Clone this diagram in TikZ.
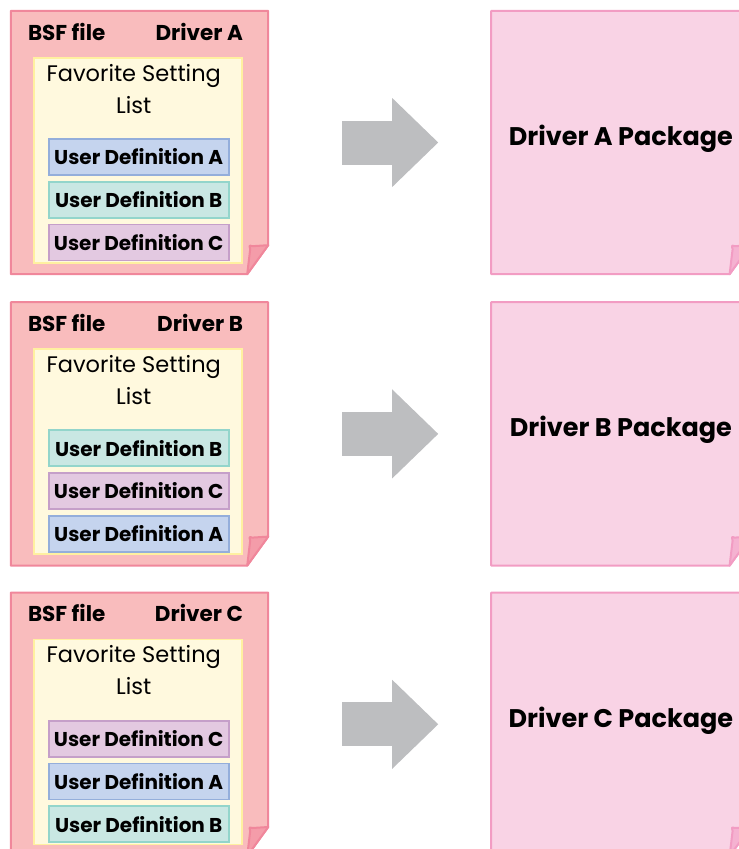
\documentclass[tikz,border=0pt]{standalone}
\usepackage{fontspec}
\setmainfont{Poppins}
\usepackage{tikz}
\usetikzlibrary{positioning, calc, arrows.meta}
\definecolor{bsffill}{HTML}{F9BCBD}
\definecolor{bsfline}{HTML}{F0879B}
\definecolor{pkgfill}{HTML}{F9D3E5}
\definecolor{pkgline}{HTML}{F29CC3}
\definecolor{listfill}{HTML}{FFF9DE}
\definecolor{listline}{HTML}{FFF0A0}
\definecolor{udAfill}{HTML}{C5D4EE}
\definecolor{udAline}{HTML}{94AEDB}
\definecolor{udBfill}{HTML}{C9E7E3}
\definecolor{udBline}{HTML}{93D5CB}
\definecolor{udCfill}{HTML}{E3C9E1}
\definecolor{udCline}{HTML}{C59FC9}
\definecolor{arrowgray}{HTML}{BDBEC0}
\tikzset{
  bsfpage/.style={minimum width=257pt, minimum height=263pt, inner sep=0pt},
  pkgpage/.style={minimum width=259pt, minimum height=263pt, inner sep=0pt},
  favlist/.style={draw=listline, fill=listfill, line width=1.8pt, minimum width=208pt, minimum height=205pt, inner sep=0pt},
  userdef/.style={line width=1.8pt, minimum width=180pt, minimum height=36pt, inner sep=0pt, font=\fontsize{20}{22}\selectfont\bfseries},
  udA/.style={userdef, draw=udAline, fill=udAfill},
  udB/.style={userdef, draw=udBline, fill=udBfill},
  udC/.style={userdef, draw=udCline, fill=udCfill},
  headtxt/.style={font=\fontsize{21.5}{24}\selectfont\bfseries, inner sep=0pt},
  favtxt/.style={font=\fontsize{22.5}{32}\selectfont, align=center, inner sep=0pt},
  pkgtxt/.style={font=\fontsize{25.5}{28}\selectfont\bfseries, inner sep=0pt},
  bigarrow/.style={draw=arrowgray, line width=44pt, -{Triangle[length=46pt, width=89pt, line width=0pt]}, shorten <=74pt, shorten >=53pt},
}
% page outline with a turned-up corner
\newcommand{\dogear}[3]{%
  \filldraw[fill=#2, draw=#3, line width=2pt, line join=round]
    (#1.north west) -- (#1.north east) -- ([yshift=29pt]#1.south east)
    -- ([xshift=-21pt]#1.south east) -- (#1.south west) -- cycle;
  \filldraw[fill=#3!60!#2, draw=#3, line width=2pt, line join=round]
    ([yshift=29pt]#1.south east) -- ([shift={(-16pt,28pt)}]#1.south east)
    .. controls ([shift={(-19pt,29pt)}]#1.south east) .. ([shift={(-18pt,25pt)}]#1.south east)
    -- ([xshift=-21pt]#1.south east) -- cycle;
}
\begin{document}
\begin{tikzpicture}
\useasboundingbox (0,0) rectangle (739pt,-849pt);
% pages
\node[bsfpage] (bsfA) at (139.5pt,-142.5pt) {};
\node[bsfpage, below=28pt of bsfA] (bsfB) {};
\node[bsfpage, below=27pt of bsfB] (bsfC) {};
\node[pkgpage, right=223pt of bsfA] (pkgA) {};
\node[pkgpage, right=223pt of bsfB] (pkgB) {};
\node[pkgpage, right=223pt of bsfC] (pkgC) {};
\dogear{bsfA}{bsffill}{bsfline}
\dogear{bsfB}{bsffill}{bsfline}
\dogear{bsfC}{bsffill}{bsfline}
\dogear{pkgA}{pkgfill}{pkgline}
\dogear{pkgB}{pkgfill}{pkgline}
\dogear{pkgC}{pkgfill}{pkgline}

% driver A
\node[headtxt, anchor=west] (bsfAname) at ([shift={(17pt,-21pt)}]bsfA.north west) {BSF file};
\node[headtxt, anchor=east] (bsfAdrv) at ([shift={(-25pt,-21pt)}]bsfA.north east) {Driver A};
\node[favlist, anchor=north west] (listA) at ([shift={(22pt,-46pt)}]bsfA.north west) {};
\node[favtxt, anchor=north] (favA) at ([shift={(-4pt,-7pt)}]listA.north) {Favorite Setting\\List};
\node[udA] (udA1) at ([shift={(1pt,-100pt)}]listA.north) {User Definition A};
\node[udB, below=5pt of udA1] (udA2) {User Definition B};
\node[udC, below=5pt of udA2] (udA3) {User Definition C};
\node[pkgtxt] (pkgAname) at ([yshift=4pt]pkgA.center) {Driver A Package};
\draw[bigarrow] (bsfA) -- (pkgA);

% driver B
\node[headtxt, anchor=west] (bsfBname) at ([shift={(17pt,-21pt)}]bsfB.north west) {BSF file};
\node[headtxt, anchor=east] (bsfBdrv) at ([shift={(-25pt,-21pt)}]bsfB.north east) {Driver B};
\node[favlist, anchor=north west] (listB) at ([shift={(22pt,-46pt)}]bsfB.north west) {};
\node[favtxt, anchor=north] (favB) at ([shift={(-4pt,-7pt)}]listB.north) {Favorite Setting\\List};
\node[udB] (udB1) at ([shift={(1pt,-100pt)}]listB.north) {User Definition B};
\node[udC, below=5pt of udB1] (udB2) {User Definition C};
\node[udA, below=5pt of udB2] (udB3) {User Definition A};
\node[pkgtxt] (pkgBname) at ([yshift=4pt]pkgB.center) {Driver B Package};
\draw[bigarrow] (bsfB) -- (pkgB);

% driver C
\node[headtxt, anchor=west] (bsfCname) at ([shift={(17pt,-20pt)}]bsfC.north west) {BSF file};
\node[headtxt, anchor=east] (bsfCdrv) at ([shift={(-25pt,-20pt)}]bsfC.north east) {Driver C};
\node[favlist, anchor=north west] (listC) at ([shift={(22pt,-46pt)}]bsfC.north west) {};
\node[favtxt, anchor=north] (favC) at ([shift={(-4pt,-7pt)}]listC.north) {Favorite Setting\\List};
\node[udC] (udC1) at ([shift={(1pt,-100pt)}]listC.north) {User Definition C};
\node[udA, below=5pt of udC1] (udC2) {User Definition A};
\node[udB, below=5pt of udC2] (udC3) {User Definition B};
\node[pkgtxt] (pkgCname) at ([yshift=4pt]pkgC.center) {Driver C Package};
\draw[bigarrow] (bsfC) -- (pkgC);
\end{tikzpicture}
\end{document}
